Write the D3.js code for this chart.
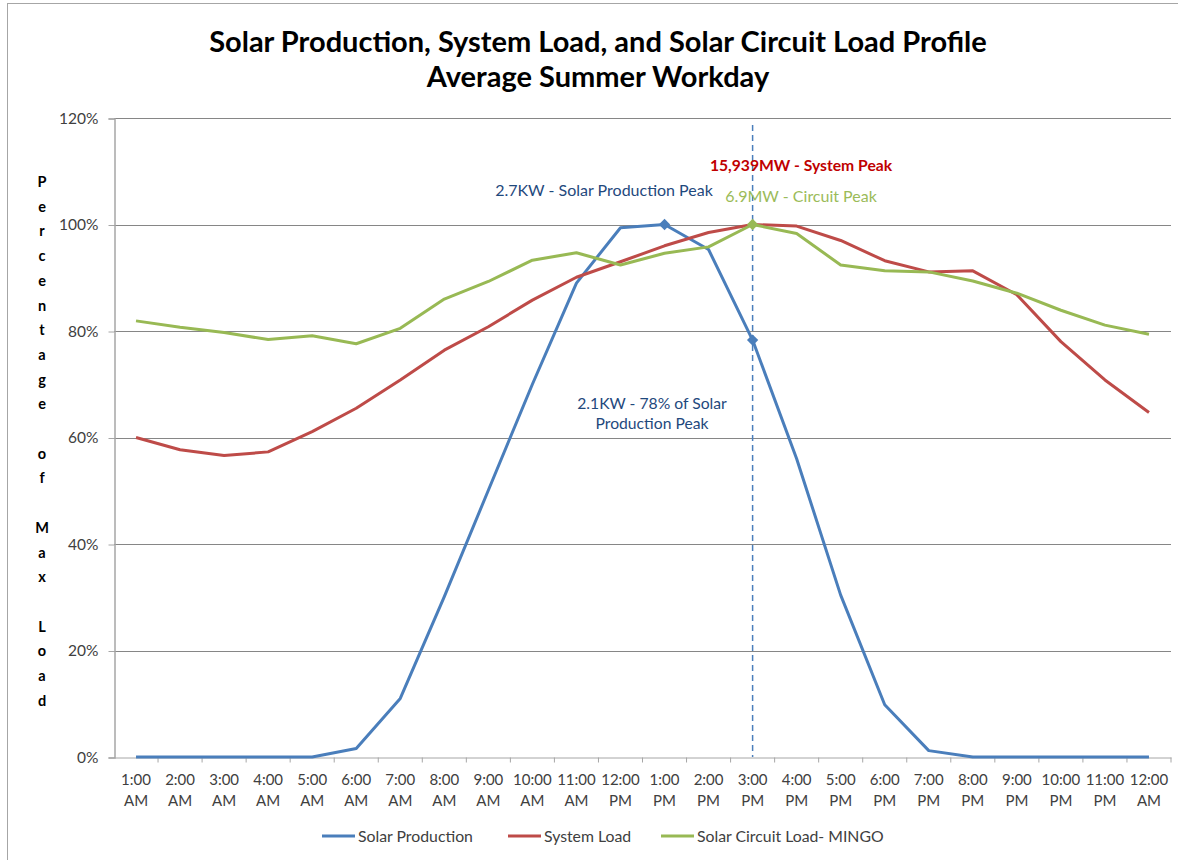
<!DOCTYPE html>
<html>
<head>
<meta charset="utf-8">
<script src="https://cdn.jsdelivr.net/npm/d3@7"></script>
<style>
  body { margin: 0; background: #fff; }
  text { font-family: Lato, "Open Sans", sans-serif; }
</style>
</head>
<body>
<script>
// hourly categories
const hours = [
  "1:00 AM", "2:00 AM", "3:00 AM", "4:00 AM", "5:00 AM", "6:00 AM",
  "7:00 AM", "8:00 AM", "9:00 AM", "10:00 AM", "11:00 AM", "12:00 PM",
  "1:00 PM", "2:00 PM", "3:00 PM", "4:00 PM", "5:00 PM", "6:00 PM",
  "7:00 PM", "8:00 PM", "9:00 PM", "10:00 PM", "11:00 PM", "12:00 AM"
];

// percent of max
const solarProduction = [0, 0, 0, 0, 0, 1.6, 11.0, 30.1, 50.1, 70.0, 89.0, 99.4,
  100, 95.3, 78.3, 56.0, 30.4, 9.8, 1.2, 0, 0, 0, 0, 0];
const systemLoad = [60.0, 57.7, 56.6, 57.3, 61.1, 65.5, 70.8, 76.4, 80.8, 85.8, 90.1, 93.0,
  96.0, 98.5, 100, 99.7, 97.0, 93.2, 91.1, 91.3, 86.8, 78.0, 70.8, 64.7];
const circuitLoad = [81.9, 80.7, 79.7, 78.4, 79.1, 77.6, 80.5, 86.0, 89.3, 93.3, 94.7, 92.4,
  94.6, 95.8, 100, 98.3, 92.4, 91.3, 91.1, 89.4, 87.1, 83.9, 81.1, 79.4];

const yTicks = [0, 20, 40, 60, 80, 100, 120];
const seriesNames = ["Solar Production", "System Load", "Solar Circuit Load- MINGO"];
const seriesColors = ["#4a7ebb", "#be4b48", "#98b954"];

// marked points: [series index, hour index]
const markers = [[0, 12], [0, 14], [2, 14]];

const width = 1178;
const height = 860;

const svg = d3.select("body").append("svg")
  .attr("width", width)
  .attr("height", height);

// outer border of the chart area
svg.append("rect")
  .attr("x", 7.5).attr("y", 3.5)
  .attr("width", width + 10).attr("height", height + 10)
  .attr("fill", "none")
  .attr("stroke", "#a6a6a6");

const x = d3.scaleBand().domain(hours).range([114, 1171]).padding(0);
const y = d3.scaleLinear().domain([0, 120]).range([757, 118]);
const cx = d => x(d) + x.bandwidth() / 2;

// gridlines
svg.append("g")
  .selectAll("line")
  .data(yTicks.filter(t => t > 0))
  .enter().append("line")
  .attr("x1", 114).attr("x2", 1171)
  .attr("y1", d => Math.round(y(d)) + 0.5)
  .attr("y2", d => Math.round(y(d)) + 0.5)
  .attr("stroke", "#868686")
  .attr("stroke-width", 1);

// y axis
const yAxis = svg.append("g")
  .attr("transform", "translate(114.5,0.5)")
  .call(d3.axisLeft(y).tickValues(yTicks).tickSize(6).tickPadding(10)
    .tickFormat(d => d + "%"));
yAxis.select(".domain").attr("stroke", "#a6a6a6").attr("stroke-width", 1.5);
yAxis.selectAll(".tick line").attr("stroke", "#a6a6a6");
yAxis.selectAll("text")
  .attr("font-size", 15.5)
  .attr("fill", "#404040")
  .style("font-family", "Lato, sans-serif");

// x axis with labels at band centres and ticks on band edges
const xAxis = svg.append("g")
  .attr("transform", "translate(0,757.5)")
  .call(d3.axisBottom(x).tickSize(0).tickPadding(0));
xAxis.select(".domain").attr("stroke", "#a6a6a6");
xAxis.selectAll(".tick text").each(function (d) {
  const parts = d.split(" ");
  const t = d3.select(this).text(null)
    .attr("font-size", 15)
    .attr("fill", "#404040")
    .attr("y", 0);
  t.append("tspan").attr("x", 0).attr("dy", 27).text(parts[0]);
  t.append("tspan").attr("x", 0).attr("dy", 21).text(parts[1]);
});
xAxis.selectAll(".edge")
  .data(hours)
  .enter().append("line")
  .attr("class", "edge")
  .attr("x1", d => x(d) + x.bandwidth())
  .attr("x2", d => x(d) + x.bandwidth())
  .attr("y1", 0).attr("y2", 5)
  .attr("stroke", "#a6a6a6");

// y axis title, one letter per line
const yTitle = "Percentage of Max Load".split("");
svg.append("g")
  .selectAll("text")
  .data(yTitle)
  .enter().append("text")
  .attr("x", 42)
  .attr("y", (d, i) => 187 + i * 24.7)
  .attr("text-anchor", "middle")
  .attr("font-size", 14.5)
  .attr("font-weight", "bold")
  .attr("fill", "#000")
  .text(d => d);

// title
svg.append("text")
  .attr("x", 598).attr("y", 52)
  .attr("text-anchor", "middle")
  .attr("font-size", 29)
  .attr("font-weight", "bold")
  .text("Solar Production, System Load, and Solar Circuit Load Profile");
svg.append("text")
  .attr("x", 598).attr("y", 87)
  .attr("text-anchor", "middle")
  .attr("font-size", 29)
  .attr("font-weight", "bold")
  .text("Average Summer Workday");

// dashed line at the system peak hour
svg.append("line")
  .attr("x1", cx("3:00 PM")).attr("x2", cx("3:00 PM"))
  .attr("y1", y(118.7)).attr("y2", y(0))
  .attr("stroke", "#4a7ebb")
  .attr("stroke-width", 1.5)
  .attr("stroke-dasharray", "6,4");

// lines
const line = d3.line()
  .x((d, i) => cx(hours[i]))
  .y(d => y(d));

const allSeries = [solarProduction, systemLoad, circuitLoad];
allSeries.forEach((s, k) => {
  svg.append("path")
    .datum(s)
    .attr("d", line)
    .attr("fill", "none")
    .attr("stroke", seriesColors[k])
    .attr("stroke-width", 3)
    .attr("stroke-linejoin", "round");
});

// peak markers (square turned 45 degrees)
svg.selectAll(".marker")
  .data(markers)
  .enter().append("path")
  .attr("class", "marker")
  .attr("d", d3.symbol().type(d3.symbolSquare).size(64))
  .attr("transform", d => `translate(${cx(hours[d[1]])},${y(allSeries[d[0]][d[1]])}) rotate(45)`)
  .attr("fill", d => seriesColors[d[0]]);

// annotations
svg.append("text")
  .attr("x", 604).attr("y", 196)
  .attr("text-anchor", "middle")
  .attr("font-size", 16)
  .attr("fill", "#1f497d")
  .text("2.7KW - Solar Production Peak");
svg.append("text")
  .attr("x", 801).attr("y", 171)
  .attr("text-anchor", "middle")
  .attr("font-size", 15.7)
  .attr("font-weight", "bold")
  .attr("fill", "#c00000")
  .text("15,939MW - System Peak");
svg.append("text")
  .attr("x", 801).attr("y", 202)
  .attr("text-anchor", "middle")
  .attr("font-size", 16)
  .attr("fill", "#9bbb59")
  .text("6.9MW - Circuit Peak");
const note = svg.append("text")
  .attr("x", 652).attr("y", 409)
  .attr("text-anchor", "middle")
  .attr("font-size", 15.7)
  .attr("fill", "#1f497d");
note.append("tspan").attr("x", 652).text("2.1KW - 78% of Solar");
note.append("tspan").attr("x", 652).attr("dy", 20).text("Production Peak");

// legend
const legendX = [322, 508, 661];
const legend = svg.append("g").selectAll("g")
  .data(seriesNames)
  .enter().append("g")
  .attr("transform", (d, i) => `translate(${legendX[i]},836)`);
legend.append("line")
  .attr("x1", 0).attr("x2", 33)
  .attr("stroke", (d, i) => seriesColors[i])
  .attr("stroke-width", 3);
legend.append("text")
  .attr("x", 36).attr("y", 5.5)
  .attr("font-size", 15.8)
  .attr("fill", "#404040")
  .text(d => d);
</script>
</body>
</html>
